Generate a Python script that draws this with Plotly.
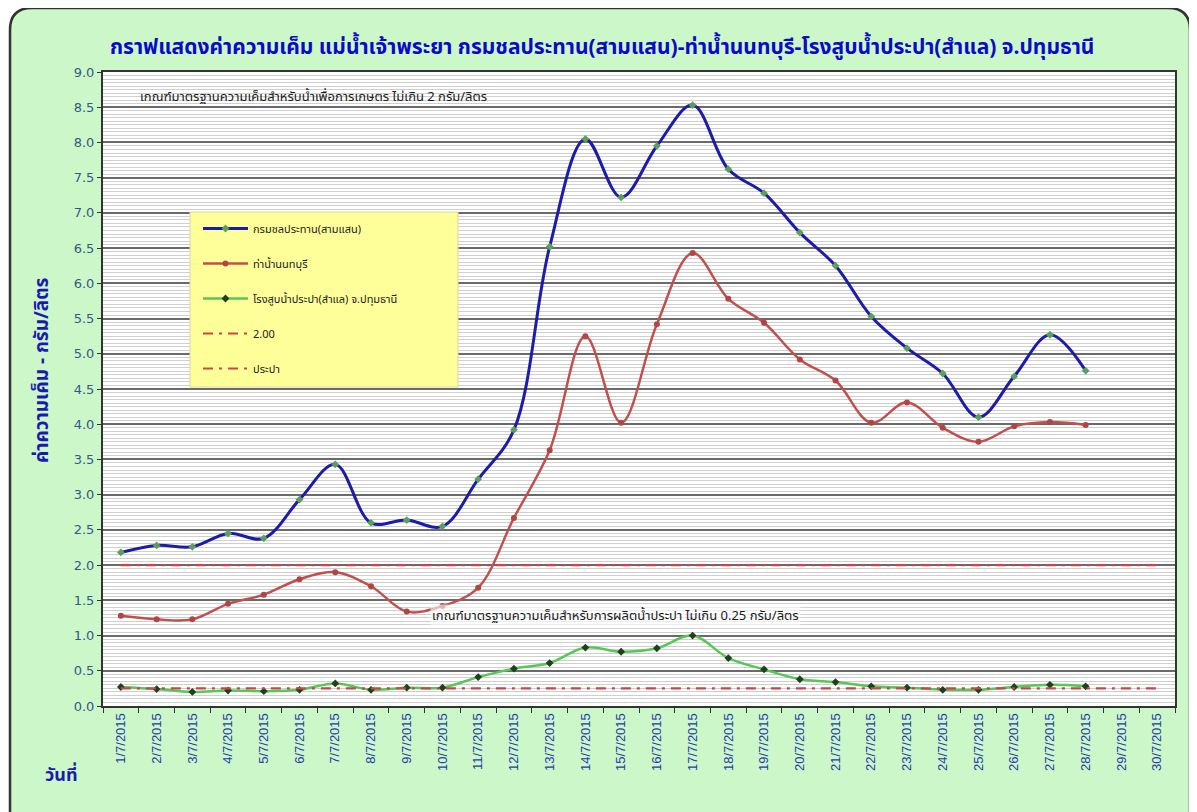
import plotly.graph_objects as go

dates = [f"{d}/7/2015" for d in range(1, 31)]

samsen = [2.18, 2.28, 2.26, 2.45, 2.38, 2.93, 3.43, 2.60, 2.64, 2.55, 3.22, 3.92,
          6.52, 8.05, 7.22, 7.95, 8.53, 7.62, 7.28, 6.72, 6.25, 5.53, 5.08, 4.72,
          4.10, 4.68, 5.27, 4.76]
nonthaburi = [1.28, 1.23, 1.23, 1.45, 1.58, 1.80, 1.90, 1.70, 1.34, 1.42, 1.68, 2.67,
              3.63, 5.25, 4.02, 5.42, 6.43, 5.78, 5.44, 4.92, 4.62, 4.02, 4.31, 3.95,
              3.75, 3.97, 4.03, 3.99]
samlae = [0.27, 0.24, 0.20, 0.22, 0.21, 0.23, 0.32, 0.23, 0.26, 0.26, 0.41, 0.53,
          0.61, 0.83, 0.77, 0.82, 1.00, 0.68, 0.52, 0.38, 0.34, 0.28, 0.26, 0.23,
          0.23, 0.27, 0.30, 0.28]
agri_limit = [2.00] * 30
tap_limit = [0.25] * 30

names = ["กรมชลประทาน(สามแสน)", "ท่าน้ำนนทบุรี", "โรงสูบน้ำประปา(สำแล) จ.ปทุมธานี", "2.00", "ประปา"]
title_text = "กราฟแสดงค่าความเค็ม แม่น้ำเจ้าพระยา กรมชลประทาน(สามแสน)-ท่าน้ำนนทบุรี-โรงสูบน้ำประปา(สำแล) จ.ปทุมธานี"
note_agri = "เกณฑ์มาตรฐานความเค็มสำหรับน้ำเพื่อการเกษตร ไม่เกิน 2 กรัม/ลิตร"
note_tap = "เกณฑ์มาตรฐานความเค็มสำหรับการผลิตน้ำประปา ไม่เกิน 0.25 กรัม/ลิตร"
y_title = "ค่าความเค็ม - กรัม/ลิตร"
x_title = "วันที่"

FONT = "Noto Sans Thai, Tahoma, Noto Sans, DejaVu Sans, sans-serif"

# page body has an 8px margin, so the figure is drawn 8px smaller and offset
OFF = 8
W, H = 1197 - OFF, 812 - OFF
L, R, T, B = 103, 1175, 72, 706  # plot area in screenshot coordinates


def px(x):
    return (x - L) / (R - L)


def py(y):
    return (B - y) / (B - T)


fig = go.Figure()

fig.add_trace(go.Scatter(
    x=dates[:len(samsen)], y=samsen, name=names[0], mode="lines+markers",
    line=dict(color="#1c1ca8", width=3, shape="spline", smoothing=1.0),
    marker=dict(symbol="diamond", size=6, color="#5aa05a"), legendgroup="a"))
fig.add_trace(go.Scatter(
    x=dates[:len(nonthaburi)], y=nonthaburi, name=names[1], mode="lines+markers",
    line=dict(color="#c0504d", width=2.5, shape="spline", smoothing=1.0),
    marker=dict(symbol="circle", size=6, color="#b04545"), legendgroup="b"))
fig.add_trace(go.Scatter(
    x=dates[:len(samlae)], y=samlae, name=names[2], mode="lines+markers",
    line=dict(color="#55c855", width=2.5, shape="spline", smoothing=1.0),
    marker=dict(symbol="diamond", size=6, color="#1f3f1f"), legendgroup="c"))
fig.add_trace(go.Scatter(
    x=dates, y=agri_limit, name=names[3], mode="lines",
    line=dict(color="#cc4444", width=2.2, dash="10px,6px,3px,6px"), legendgroup="d"))
fig.add_trace(go.Scatter(
    x=dates, y=tap_limit, name=names[4], mode="lines",
    line=dict(color="#cc4444", width=2.2, dash="10px,6px,3px,6px"), legendgroup="e"))

# outer rounded panel
x0, x1, y0, y1 = 10, 1190, 8, 830
r = 22
path = (f"M {px(x0 + r)},{py(y0)} L {px(x1 - r)},{py(y0)} "
        f"Q {px(x1)},{py(y0)} {px(x1)},{py(y0 + r)} "
        f"L {px(x1)},{py(y1)} L {px(x0)},{py(y1)} "
        f"L {px(x0)},{py(y0 + r)} Q {px(x0)},{py(y0)} {px(x0 + r)},{py(y0)} Z")
shapes = [
    dict(type="path", xref="paper", yref="paper", path=path,
         fillcolor="#ccf7c8", line=dict(color="#333333", width=2.5), layer="below"),
    dict(type="rect", xref="paper", yref="paper", x0=0, x1=1, y0=0, y1=1,
         fillcolor="white", line=dict(width=0), layer="below"),
    dict(type="rect", xref="paper", yref="paper", x0=px(190), x1=px(458),
         y0=py(387), y1=py(212), fillcolor="#ffff99",
         line=dict(color="#d8d8a0", width=1), layer="above"),
]

annotations = [
    dict(text=f"<b>{title_text}</b>", xref="paper", yref="paper", x=px(602), y=py(47),
         xanchor="center", yanchor="middle",
         showarrow=False, font=dict(family=FONT, size=21, color="#0a0ac8")),
    dict(text=note_agri, xref="paper", yref="paper", x=px(138), y=py(97),
         xanchor="left", yanchor="middle",
         showarrow=False, font=dict(family=FONT, size=13, color="#1a1a1a")),
    dict(text=note_tap, xref="paper", yref="paper", x=px(430), y=py(616),
         xanchor="left", yanchor="middle",
         showarrow=False, font=dict(family=FONT, size=13, color="#1a1a1a"),
         bgcolor="rgba(255,255,255,0.6)"),
    dict(text=f"<b>{y_title}</b>", xref="paper", yref="paper", x=px(42), y=py(370),
         xanchor="center", yanchor="middle",
         textangle=-90, showarrow=False, font=dict(family=FONT, size=19, color="#1a1ab0")),
    dict(text=f"<b>{x_title}</b>", xref="paper", yref="paper", x=px(61), y=py(775),
         xanchor="center", yanchor="middle",
         showarrow=False, font=dict(family=FONT, size=18, color="#1a1ab0")),
]

fig.update_layout(
    width=W, height=H,
    margin=dict(l=L - OFF, r=W - (R - OFF), t=T - OFF, b=H - (B - OFF)),
    paper_bgcolor="white", plot_bgcolor="rgba(0,0,0,0)",
    shapes=shapes, annotations=annotations,
    showlegend=True,
    legend=dict(x=px(198), y=py(214), xanchor="left", yanchor="top",
                bgcolor="rgba(0,0,0,0)", traceorder="grouped", tracegroupgap=16,
                font=dict(family=FONT, size=11, color="#222222"), itemwidth=45),
    font=dict(family=FONT),
)

fig.update_xaxes(
    type="category", categoryorder="array", categoryarray=dates,
    range=[-0.5, 29.5], tickson="boundaries", ticks="outside", ticklen=5,
    tickcolor="#333", tickangle=-90, showgrid=False,
    tickfont=dict(family="Liberation Sans, Arial, sans-serif", size=13, color="#2a3aa8"),
    showline=True, linecolor="#333", linewidth=2, mirror=True)
fig.update_yaxes(
    range=[0, 9], dtick=0.5, tickformat=".1f", ticks="outside", ticklen=4,
    tickcolor="#333",
    tickfont=dict(family="DejaVu Sans, sans-serif", size=13, color="#34588a"),
    showgrid=True, gridcolor="#6a6a6a", gridwidth=2,
    minor=dict(dtick=0.05, showgrid=True, gridcolor="#cfcfcf", gridwidth=1),
    showline=True, linecolor="#333", linewidth=2, mirror=True, zeroline=False)

fig.write_html("out.html")
